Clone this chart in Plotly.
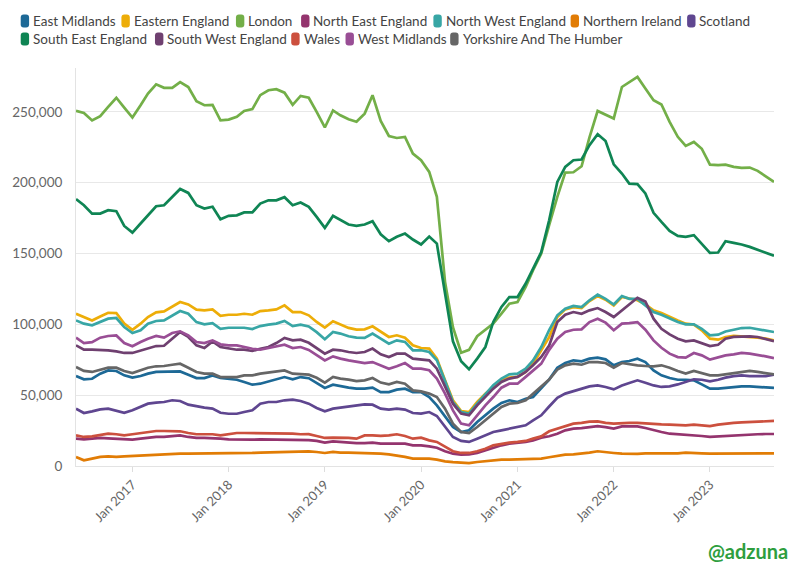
import pandas as pd
import plotly.graph_objects as go

# monthly job ads by region, Jun 2016 - Sep 2023 (thousands)
months = pd.date_range("2016-06-01", "2023-09-01", freq="MS")

east_midlands = [
    63.5, 61.2, 61.6, 65.2, 67.5, 67.1, 64, 62.4, 63.5, 65.2,
    66.4, 66.4, 66.4, 66.8, 64.5, 62.1, 62.1, 64, 62.1, 61.6,
    60.9, 59.3, 57.4, 58.1, 59.8, 60.9, 62.8, 61.2, 62.8, 62,
    58.7, 55.1, 57.4, 56.3, 55.3, 54.6, 54.6, 55.3, 52.2, 52.2,
    53.9, 54.6, 52.2, 52.2, 48.7, 42.8, 34.6, 27.5, 24, 25.2,
    31.1, 35.8, 40.5, 44.5, 46.4, 45.2, 47.5, 48.7, 54.6, 61,
    69.4, 72.7, 74.6, 73.9, 75.8, 76.5, 75.3, 71.1, 73.4, 74.1,
    75.8, 73.4, 67.5, 64, 62.1, 60.9, 60.9, 60.5, 57.6, 54.6,
    54.6, 55.1, 55.8, 56.2, 56.2, 55.8, 55.3, 55.1,
]
eastern_england = [
    107.5, 105.2, 102.8, 105.6, 108.2, 108, 100.5, 96.2, 100.5, 105.2,
    108.5, 109.2, 112.7, 115.8, 114.1, 110.4, 109.9, 110.6, 106.1, 106.8,
    106.8, 107.5, 106.8, 109.4, 109.9, 110.6, 113.4, 108.7, 108.7, 106.4,
    101.7, 97.7, 102.2, 100, 97.5, 96.3, 96.5, 98.6, 94.6, 91.1,
    92.3, 90.6, 85.2, 83.3, 82.9, 75.8, 60.5, 46.4, 38.8, 38.1,
    45.2, 51.1, 55.8, 60.5, 62.4, 62.9, 66.4, 72.3, 81.7, 91,
    105.2, 110.6, 112.2, 111.5, 116.5, 120, 117.4, 113.4, 119.3, 118.1,
    117, 114.1, 109.9, 108, 105.2, 102.8, 100.5, 99.8, 95.8, 89.9,
    89.2, 91.1, 91.8, 91.5, 91.1, 90.6, 89.9, 88.7,
]
london = [
    250.7, 249.3, 244, 247, 253.5, 260, 253, 246, 254.7, 263,
    269.5, 267, 267, 271, 267.6, 257.5, 254.7, 255, 244, 244.6,
    246.5, 250.7, 252, 261.8, 265.3, 266, 263.6, 255, 261.3, 260,
    250, 239, 251, 247.6, 244.8, 243, 248.8, 261.8, 243.6, 233,
    231.6, 232.3, 220.6, 215.9, 207.6, 190, 130, 98, 80, 82,
    91.6, 95.8, 100.5, 107.6, 114.6, 115.8, 126.4, 138.2, 150, 170,
    190, 207.2, 207.4, 211.6, 232, 250.7, 248, 245.3, 267.6, 270.7,
    274.7, 266.5, 258.2, 255.2, 243, 232.4, 226, 228.8, 224, 212.8,
    212.4, 212.8, 211.2, 210.5, 210.7, 208.4, 204.6, 200.6,
]
north_east_england = [
    19.3, 18.8, 19.3, 19.8, 19.5, 19.3, 18.6, 18.6, 19.3, 20,
    20.5, 20.5, 20.9, 21.6, 20.5, 19.8, 19.8, 19.8, 19.3, 18.8,
    18.6, 18.6, 18.6, 18.8, 18.8, 18.8, 18.8, 18.6, 18.6, 18.3,
    17.7, 16.5, 17.4, 17, 16.5, 16.2, 16.2, 16.5, 15.8, 15.8,
    16.2, 15.8, 14.6, 14.6, 13.9, 12.9, 10.4, 8.7, 8, 8.2,
    9.2, 11.1, 12.7, 14.6, 15.8, 16.2, 17, 18.1, 20, 21,
    22.8, 25.2, 26.4, 26.8, 27.5, 28.2, 27.5, 26.4, 28, 28.2,
    28, 26.8, 25.2, 24, 22.8, 22.4, 22.4, 22.1, 21.2, 20.5,
    20.9, 21.2, 21.6, 22.1, 22.4, 22.4, 22.6, 22.6,
]
north_west_england = [
    102.8, 100.5, 99.3, 101.6, 104, 104.5, 98.1, 93.9, 95.8, 100.5,
    102.4, 102.8, 106.4, 109.4, 107.5, 101.6, 100, 100.9, 96.9, 97.6,
    97.6, 97.6, 96.7, 98.8, 99.8, 100.5, 102.4, 98.8, 99.8, 98.5,
    94.5, 89.5, 94.6, 93.5, 91.6, 90.6, 90.4, 93.5, 89.9, 86.4,
    88.7, 87.6, 81.7, 81.7, 80.5, 74.6, 60, 45.2, 38.1, 37,
    44, 50.6, 57, 61.7, 64.7, 65.2, 68.7, 74.6, 84, 96,
    106.4, 111, 113, 112.2, 117, 121, 118, 114, 120, 118,
    118, 113.4, 108.7, 106.8, 104, 101.6, 100, 100, 96.9, 92.2,
    92.7, 95, 96.2, 97.4, 97.6, 96.5, 95.3, 94.6,
]
northern_ireland = [
    6.4, 4, 5.2, 6.4, 6.8, 6.4, 6.8, 7.1, 7.5, 8,
    8.2, 8.5, 8.7, 8.7, 8.7, 8.7, 8.7, 8.7, 8.9, 8.9,
    9.2, 9.2, 9.2, 9.4, 9.6, 9.9, 10.1, 10.1, 10.4, 10.3,
    9.9, 9.2, 9.9, 9.4, 9.4, 9.2, 9.2, 9.2, 8.7, 8.2,
    7.5, 6.4, 5.2, 5.2, 5.2, 4.5, 3.3, 2.8, 2.4, 2.1,
    2.8, 3.5, 4, 4.5, 4.5, 4.7, 4.7, 5.2, 5.2, 6.2,
    7.1, 8, 8.2, 8.7, 9.4, 10.4, 9.6, 9.2, 8.7, 8.5,
    8.5, 8.9, 8.9, 8.7, 8.5, 8.9, 9.4, 9.4, 8.9, 8.7,
    8.7, 8.9, 8.9, 8.9, 8.9, 8.9, 8.9, 8.9,
]
scotland = [
    40.5, 37.4, 38.6, 40, 40.5, 39.3, 37.6, 39.3, 41.6, 44,
    44.7, 45.2, 46.4, 45.9, 43.3, 42.1, 41.2, 40.5, 37.6, 36.9,
    36.9, 38.1, 39.3, 44, 45.2, 45.2, 46.4, 46.8, 45.9, 44,
    41, 38.6, 40.5, 41.2, 42.1, 42.8, 43.5, 43.3, 40.5, 39.8,
    40.5, 39.8, 37.4, 37, 38.1, 35.3, 27.5, 20.5, 17.7, 17,
    19.3, 21.6, 24, 25.2, 26.4, 27.1, 28.7, 32.2, 35.8, 42,
    48.2, 51.1, 52.9, 54.6, 56.2, 56.9, 55.8, 54.1, 56.9, 58.6,
    60.5, 58.8, 56.9, 55.8, 56.2, 57.6, 59.3, 61.2, 60.9, 59.8,
    60.9, 62.4, 63.5, 64, 63.5, 63.3, 63.5, 64.5,
]
south_east_england = [
    188.4, 184.1, 178.2, 178.2, 180.6, 179.9, 169.5, 164.8, 171.2, 177,
    183.4, 184.1, 190, 195.6, 192.8, 184.1, 181.8, 183, 174.2, 176.6,
    177, 179, 179, 185.3, 187.6, 187.6, 189.8, 184.1, 186, 183,
    175.9, 168.1, 176.6, 173.5, 170.5, 169.5, 170.5, 172.8, 163.6, 158.7,
    161.8, 164.1, 159.9, 156.4, 162, 157, 122, 88, 74, 68.3,
    75.8, 84, 101.7, 112.3, 119.3, 119.3, 128.8, 139.4, 151, 173.5,
    200.6, 211.2, 215.9, 216.4, 226.5, 234.2, 229.5, 213, 206.5, 199.4,
    199, 192.4, 178.7, 172.3, 166, 162.5, 161.8, 163, 157, 150.5,
    150.7, 158.7, 157.5, 156.4, 154.7, 152.8, 150.7, 148.4,
]
south_west_england = [
    85.2, 82.1, 82.1, 82.1, 81.6, 80.9, 79.8, 79.8, 81.6, 82.8,
    84.7, 84.9, 89.9, 94.6, 91.1, 85.2, 83.3, 88, 84, 82.8,
    82.1, 82.1, 81.2, 82.8, 84, 86.8, 90.4, 88.7, 89.2, 87,
    83.5, 79.3, 82.1, 81.7, 80.5, 79.8, 80.5, 82.9, 78.9, 77,
    79.3, 79.3, 75.8, 75.1, 74.6, 68.7, 55.8, 44, 37, 35.8,
    42.8, 48.7, 54.6, 59.3, 61.7, 62.9, 66.4, 71.1, 77, 85,
    101.6, 106.8, 108.7, 107.5, 109.9, 111.5, 108.7, 105.2, 109.9, 114.6,
    118.8, 116.2, 104, 96.9, 92.9, 89.9, 88, 88.7, 86.8, 84.7,
    85.6, 89.9, 91.1, 91.5, 91.5, 91.1, 89.9, 88.2,
]
wales = [
    21.6, 20.5, 20.9, 22.1, 22.8, 22.4, 21.6, 22.4, 23.3, 24.2,
    24.7, 24.7, 24.7, 24.5, 23.3, 22.4, 22.4, 22.4, 21.6, 22.4,
    23.3, 23.3, 23.3, 22.8, 22.8, 22.8, 23.3, 22.8, 22.4, 22.5,
    21.2, 19.8, 20, 20, 19.8, 19.3, 21.6, 21.6, 21.2, 21.6,
    22.4, 21.2, 19.3, 20, 18.1, 17, 13.4, 10.4, 9.2, 9.2,
    10.4, 12.2, 14.6, 15.8, 16.5, 17, 17.7, 19.3, 20.9, 24.5,
    26.4, 28.2, 29.9, 30.4, 31.3, 31.5, 30.4, 29.9, 30.4, 30.4,
    30.4, 29.9, 29.9, 29.4, 29.2, 28.7, 28.7, 29.2, 28.7, 28.2,
    29.2, 29.9, 30.4, 30.8, 31.1, 31.3, 31.5, 31.8,
]
west_midlands = [
    90.6, 86.8, 87.5, 90.6, 91.8, 92.2, 86.8, 84.5, 87.5, 89.9,
    91.8, 90.6, 93.9, 95.1, 92.2, 87.5, 86.8, 88.7, 85.9, 85.2,
    85.2, 84, 82.8, 82.1, 83.3, 84, 85.6, 83.3, 84, 82,
    78.5, 74.6, 77.4, 75.8, 74.6, 73.4, 72.7, 73.4, 71.1, 68.7,
    70.4, 72.7, 68.7, 68.7, 67.6, 61.7, 51.1, 39.3, 29.9, 28.7,
    35.8, 42.8, 48.7, 55.3, 58.1, 58.1, 62.9, 67.6, 72.3, 82,
    89.9, 94.6, 96.2, 96.5, 101.6, 104, 101.2, 95.8, 100.5, 100.9,
    101.6, 96.2, 88.7, 83.5, 79.3, 76.9, 76.5, 79.8, 78.1, 75.1,
    76.5, 78.1, 78.8, 79.8, 79.3, 78.1, 77.4, 76.2,
]
yorkshire = [
    69.9, 67.1, 66.4, 68.2, 69.4, 69.4, 67.1, 65.6, 67.5, 69.4,
    70.4, 70.6, 71.5, 72.2, 69.4, 66.4, 65.2, 65.2, 62.8, 62.8,
    62.8, 64, 64, 65.2, 65.9, 66.8, 67.5, 65.2, 64.7, 64.5,
    62.3, 58.9, 62.9, 61.7, 61, 60, 60.5, 62.1, 58.9, 57.7,
    59.3, 58.1, 53.4, 52.7, 51.1, 48.7, 40.5, 29.9, 24, 23.3,
    27.5, 32.2, 37, 41.7, 44, 44.5, 46.4, 51.1, 55.8, 61,
    68, 71.1, 72.2, 71.5, 73.4, 73.4, 72.7, 69.4, 72.7, 71.8,
    71.1, 70.6, 70.4, 71.1, 69.4, 67.1, 65.2, 67.1, 65.6, 64,
    64, 64.7, 65.6, 66.4, 67.1, 66.4, 65.6, 64.7,
]

regions = ["East Midlands", "Eastern England", "London", "North East England",
           "North West England", "Northern Ireland", "Scotland",
           "South East England", "South West England", "Wales",
           "West Midlands", "Yorkshire And The Humber"]
series = [east_midlands, eastern_england, london, north_east_england,
          north_west_england, northern_ireland, scotland, south_east_england,
          south_west_england, wales, west_midlands, yorkshire]
colors = ["#1D6996", "#EDAD08", "#73AF48", "#94346E", "#38A6A5", "#E17C05",
          "#5F4690", "#0F8554", "#6F4070", "#CC503E", "#994E95", "#666666"]

fig = go.Figure()
for name, vals, col in zip(regions, series, colors):
    fig.add_trace(go.Scatter(
        x=months, y=[v * 1000 for v in vals], mode="lines", name=name,
        line=dict(color=col, width=2.7), showlegend=False,
    ))

# hand-placed legend (rounded pill + label), pixel positions of each entry
W, H = 796, 575
ml, mr, mt, mb = 67, 22, 68, 109
pw, ph = W - ml - mr, H - mt - mb


def px_x(px):
    return (px - ml) / pw


def px_y(py):
    return (H - mb - py) / ph


def pill_path(x0, y0, x1, y1, r=3):
    # rounded rectangle in pixel space, converted to paper coordinates
    pts = [("M", x0 + r, y0), ("L", x1 - r, y0), ("Q", x1, y0, x1, y0 + r),
           ("L", x1, y1 - r), ("Q", x1, y1, x1 - r, y1), ("L", x0 + r, y1),
           ("Q", x0, y1, x0, y1 - r), ("L", x0, y0 + r), ("Q", x0, y0, x0 + r, y0)]
    out = []
    for p in pts:
        cmd, vals = p[0], p[1:]
        coords = []
        for k in range(0, len(vals), 2):
            coords.append(f"{px_x(vals[k]):.5f},{px_y(vals[k + 1]):.5f}")
        out.append(cmd + " " + " ".join(coords))
    return " ".join(out) + " Z"


legend_pos = [(11, 21), (113, 21), (229, 21), (295, 21), (429, 21), (568, 21),
              (686, 21), (11, 39), (147, 39), (285, 39), (340, 39),
              (446, 39)]
for name, col, (px, py) in zip(regions, colors, legend_pos):
    fig.add_shape(
        type="path", xref="paper", yref="paper",
        path=pill_path(px, py - 6.5, px + 8.5, py + 6.5),
        fillcolor=col, line=dict(width=0),
    )
    fig.add_annotation(
        x=px_x(px + 11.5), y=px_y(py), xref="paper", yref="paper",
        xanchor="left", yanchor="middle", showarrow=False, borderpad=0,
        text=name, font=dict(family="Lato", size=13.5, color="#444"),
    )

fig.add_annotation(
    x=px_x(790), y=px_y(551), xref="paper", yref="paper",
    xanchor="right", yanchor="middle", showarrow=False,
    text="<b>@adzuna</b>", font=dict(family="Lato", size=20, color="#2E9E3E"),
)

fig.update_layout(
    width=W, height=H,
    margin=dict(l=ml, r=mr, t=mt, b=mb),
    paper_bgcolor="white", plot_bgcolor="white",
    font=dict(family="Lato", color="#666"),
    xaxis=dict(
        type="date", range=[months[0], months[-1]],
        tickvals=pd.date_range("2017-01-01", "2023-01-01", freq="YS"),
        tickformat="%b %Y", tickangle=-45, tickfont=dict(size=13, color="#666"),
        ticks="outside", ticklen=5, tickcolor="#dddddd",
        showgrid=False, showline=True, linecolor="#e3e3e3", zeroline=False,
    ),
    yaxis=dict(
        range=[0, 281000], dtick=50000, tickformat=",",
        tickfont=dict(size=13.5, color="#666"),
        showgrid=True, gridcolor="#e8e8e8", showline=True, linecolor="#e3e3e3",
        zeroline=False, ticks="", ticklabelstandoff=10,
    ),
)

fig.write_html("out.html", config={"displayModeBar": False},
               post_script="document.body.style.margin = '0';")
